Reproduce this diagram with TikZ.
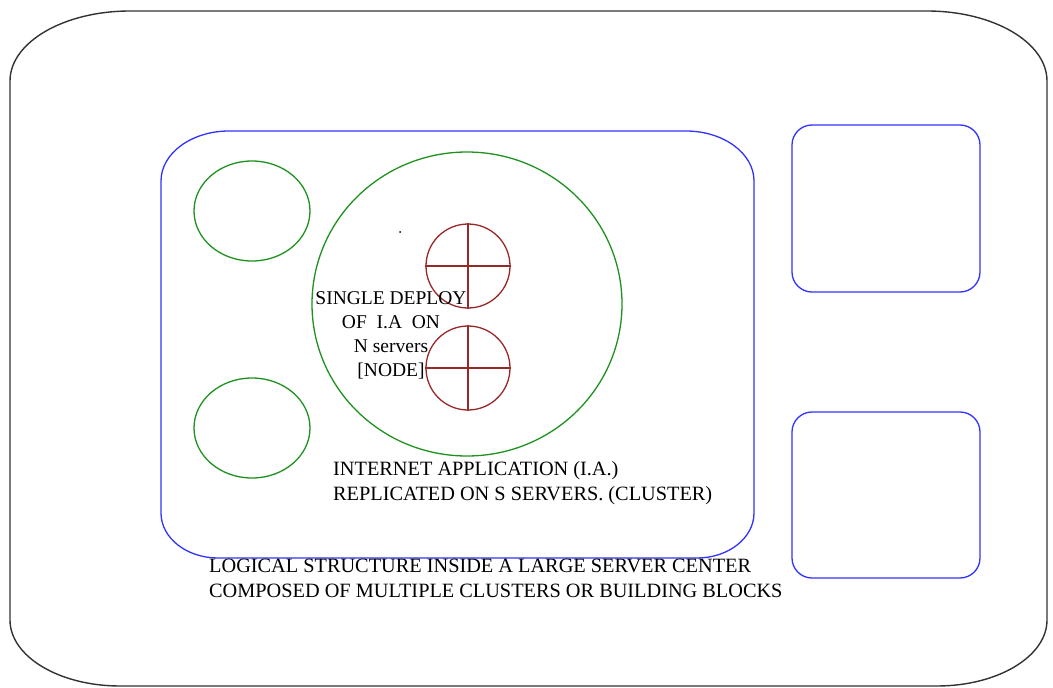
\documentclass[tikz,border=0pt]{standalone}
\usepackage{fontspec}
\setmainfont{Liberation Serif}
\usetikzlibrary{shapes.geometric}

% rectangle whose corners are quarter ellipses:
% style, x0, y0, x1, y1, top rx, top ry, bottom rx, bottom ry
\newcommand\softrect[9]{%
  \draw[#1] (#2+#6,#3) -- (#4-#6,#3)
    arc[start angle=270, end angle=360, x radius=#6, y radius=#7]
    -- (#4,#5-#9)
    arc[start angle=0, end angle=90, x radius=#8, y radius=#9]
    -- (#2+#8,#5)
    arc[start angle=90, end angle=180, x radius=#8, y radius=#9]
    -- (#2,#3+#7)
    arc[start angle=180, end angle=270, x radius=#6, y radius=#7]
    -- cycle;}

\definecolor{frame}{RGB}{50,50,50}
\definecolor{clusterblue}{RGB}{50,50,255}
\definecolor{appgreen}{RGB}{30,145,30}
\definecolor{serverred}{RGB}{150,40,40}

\tikzset{
  outer/.style={draw=frame, line width=1.4pt},
  block/.style={draw=clusterblue, line width=1.3pt},
  app/.style={draw=appgreen, line width=1.3pt, ellipse, inner sep=0pt},
  server/.style={draw=serverred, line width=1.3pt, circle, minimum size=84pt, inner sep=0pt},
  label/.style={font=\fontsize{20.3}{25}\selectfont, inner sep=0pt}
}

\begin{document}
\begin{tikzpicture}[x=1pt, y=-1pt]
  \useasboundingbox (0,0) rectangle (1053,688);

  % server center
  \softrect{outer}{10}{11}{1047}{686}{120}{70}{110}{66}

  % building blocks
  \softrect{block}{161}{131}{754}{558}{68}{50}{57}{45}
  \softrect{block}{792}{125}{980}{292}{20}{20}{20}{20}
  \softrect{block}{792}{412}{980}{578}{20}{20}{20}{20}

  % applications inside the cluster
  \node[app, minimum width=116pt, minimum height=100pt] (appA) at (252,211) {};
  \node[app, minimum width=116pt, minimum height=100pt] (appB) at (252,428) {};
  \node[app, minimum width=310pt, minimum height=304pt] (appMain) at (467,304) {};

  % servers of one deployment
  \node[server] (srvA) at (468,266) {};
  \node[server] (srvB) at (468,368) {};
  \foreach \s in {srvA,srvB} {
    \draw[serverred, line width=1.3pt] (\s.west) -- (\s.east);
    \draw[serverred, line width=1.3pt] (\s.north) -- (\s.south);
  }

  \fill (400,232) circle (1pt);

  % labels
  \node[label, font=\fontsize{19.5}{24}\selectfont, align=center, anchor=north] (deploy) at (391,291)
    {SINGLE DEPLOY\\OF\ \ I.A\ \ ON\\N servers\\{}[NODE]};
  \node[label, align=left, anchor=north west] (cluster) at (333,461)
    {INTERNET APPLICATION (I.A.)\\REPLICATED ON S SERVERS. (CLUSTER)};
  \node[label, align=left, anchor=north west] (center) at (209,559)
    {LOGICAL STRUCTURE INSIDE A LARGE SERVER CENTER\\COMPOSED OF MULTIPLE CLUSTERS OR BUILDING BLOCKS};
\end{tikzpicture}
\end{document}
